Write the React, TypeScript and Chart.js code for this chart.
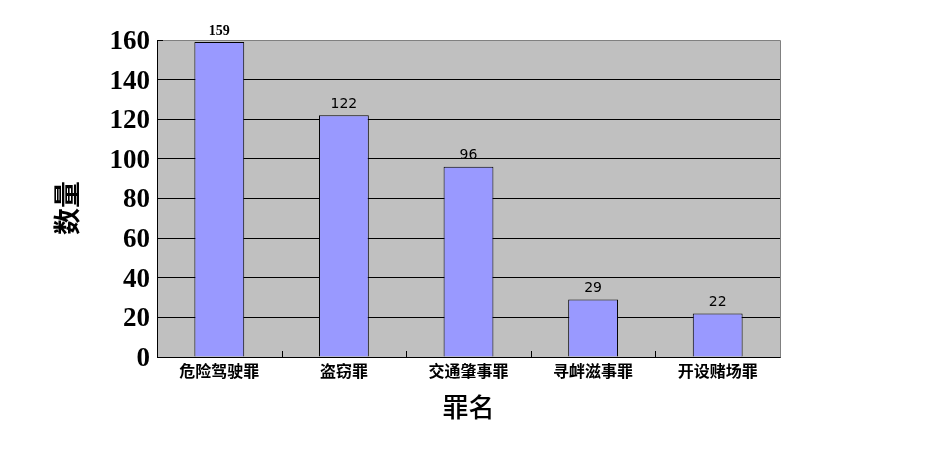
import React, { useEffect, useRef } from "react";
import { Chart, registerables } from "chart.js";

Chart.register(...registerables);

const categories = ["危险驾驶罪", "盗窃罪", "交通肇事罪", "寻衅滋事罪", "开设赌场罪"];
const counts = [159, 122, 96, 29, 22];
const yTicks = [0, 20, 40, 60, 80, 100, 120, 140, 160];
const xTitle = "罪名";
const yTitle = "数量";

const decorPlugin = {
  id: "decor",
  beforeDraw(chart: any) {
    const { ctx, chartArea: a } = chart;
    ctx.save();
    ctx.fillStyle = "#C0C0C0";
    ctx.fillRect(a.left, a.top, a.right - a.left, a.bottom - a.top);
    ctx.restore();
  },
  afterDraw(chart: any) {
    const { ctx, chartArea: a } = chart;
    const xs = chart.scales.x;
    ctx.save();
    ctx.strokeStyle = "#808080";
    ctx.lineWidth = 1;
    ctx.beginPath();
    ctx.moveTo(Math.round(a.left) + 0.5, Math.round(a.top) + 0.5);
    ctx.lineTo(Math.round(a.right) + 0.5, Math.round(a.top) + 0.5);
    ctx.lineTo(Math.round(a.right) + 0.5, Math.round(a.bottom) + 0.5);
    ctx.stroke();
    ctx.strokeStyle = "#000";
    ctx.beginPath();
    ctx.moveTo(Math.round(a.left), Math.round(a.top) + 0.5);
    ctx.lineTo(Math.round(a.left) + 6, Math.round(a.top) + 0.5);
    ctx.stroke();
    const n = categories.length;
    ctx.beginPath();
    for (let i = 1; i < n; i++) {
      const x = Math.round((xs.getPixelForTick(i - 1) + xs.getPixelForTick(i)) / 2) + 0.5;
      ctx.moveTo(x, a.bottom);
      ctx.lineTo(x, a.bottom - 6);
    }
    ctx.stroke();
    const meta = chart.getDatasetMeta(0);
    ctx.fillStyle = "#000";
    ctx.textAlign = "center";
    ctx.textBaseline = "bottom";
    meta.data.forEach((bar: any, i: number) => {
      if (i === 0) ctx.font = "bold 14px 'Liberation Serif'";
      else ctx.font = "14px 'DejaVu Sans'";
      ctx.fillText(String(counts[i]), bar.x, bar.y - 4);
    });
    ctx.font = "500 26px 'Noto Sans CJK SC'";
    ctx.textBaseline = "middle";
    ctx.fillText(xTitle, (a.left + a.right) / 2, 407);
    ctx.save();
    ctx.translate(67, 208);
    ctx.rotate(-Math.PI / 2);
    ctx.font = "bold 27px 'Noto Sans CJK SC'";
    ctx.fillText(yTitle, 0, 0);
    ctx.restore();
    ctx.restore();
  },
};

export default function App() {
  const ref = useRef<HTMLCanvasElement>(null);
  useEffect(() => {
    const chart = new Chart(ref.current!, {
      type: "bar",
      data: {
        labels: categories,
        datasets: [
          {
            data: counts,
            backgroundColor: "#9999FF",
            borderColor: "#000000",
            borderWidth: 1,
            barPercentage: 0.8,
            categoryPercentage: 0.5,
          },
        ],
      },
      options: {
        animation: false,
        responsive: false,
        layout: { padding: { top: 40, right: 151, left: 0, bottom: 0 } },
        plugins: { legend: { display: false }, tooltip: { enabled: false } },
        scales: {
          x: {
            grid: { display: false, drawTicks: false },
            border: { display: true, color: "#000", width: 1 },
            ticks: {
              color: "#000",
              padding: 4,
              maxRotation: 0,
              font: { family: "'Noto Sans CJK SC'", size: 16, weight: "bold" },
            },
            afterFit: (s: any) => {
              s.height = 103;
            },
          },
          y: {
            min: 0,
            max: 160,
            afterBuildTicks: (s: any) => {
              s.ticks = yTicks.map((v) => ({ value: v }));
            },
            grid: {
              drawTicks: false,
              color: (c: any) => (c.tick && c.tick.value === 160 ? "rgba(0,0,0,0)" : "#000"),
              lineWidth: 1,
            },
            border: { display: true, color: "#000", width: 1 },
            ticks: {
              color: "#000",
              padding: 7,
              labelOffset: 2,
              font: { family: "'Liberation Serif'", size: 27, weight: "bold" },
            },
            afterFit: (s: any) => {
              s.width = 157;
            },
          },
        },
      },
      plugins: [decorPlugin],
    });
    return () => chart.destroy();
  }, []);
  return (
    <div style={{ position: "absolute", left: 0, top: 0, width: 931, height: 460, background: "#fff" }}>
      <canvas ref={ref} width={931} height={460} />
    </div>
  );
}
